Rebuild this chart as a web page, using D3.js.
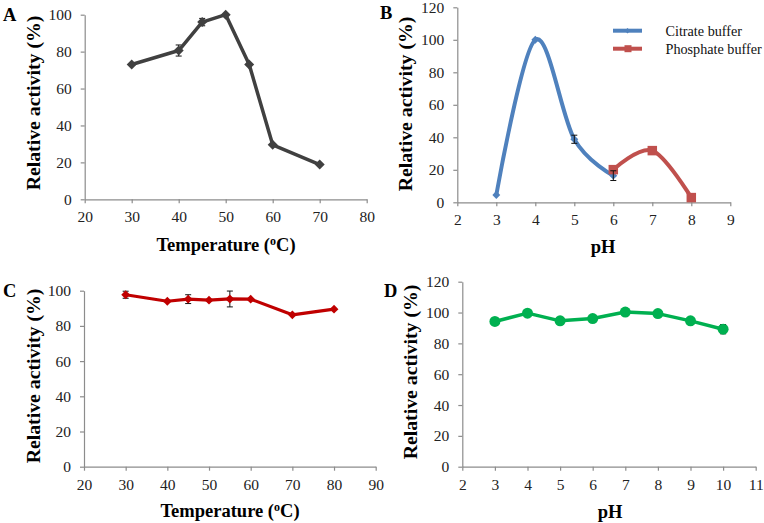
<!DOCTYPE html>
<html><head><meta charset="utf-8">
<script src="https://cdn.jsdelivr.net/npm/d3@7"></script>
<style>
body{margin:0;background:#fff;}
svg{display:block;}
svg text{font-family:"Liberation Serif","DejaVu Serif",serif;}
</style></head>
<body><svg id="c" width="764" height="523"></svg>
<script>
// Panel A: temperature optimum
const aTemp = [30, 40, 45, 50, 55, 60, 70];
const aAct  = [73, 80.6, 96, 100, 73, 29.5, 18.8];
const aErr  = [0, 3, 2, 0, 0, 0, 0];
// Panel B: pH optimum
const bCitratePH  = [3, 4, 5, 6];
const bCitrateAct = [4.5, 100, 38.8, 16.4];
const bCitrateErr = [0, 0, 2.5, 3];
const bPhosPH  = [6, 7, 8];
const bPhosAct = [20.1, 31.8, 2.9];
const bPhosErr = [0, 0, 0];
// Panel C: thermal stability
const cTemp = [30, 40, 45, 50, 55, 60, 70, 80];
const cAct  = [97.7, 94, 95.2, 94.6, 95.3, 95.2, 86.3, 89.5];
const cErr  = [2, 0, 2.5, 0, 4.5, 0, 0, 0];
// Panel D: pH stability
const dPH  = [3, 4, 5, 6, 7, 8, 9, 10];
const dAct = [94.2, 99.6, 94.6, 96.1, 100.3, 99.3, 94.6, 89.2];
const dErr = [0, 0, 0, 0, 0, 0, 0, 3];
// ticks
const tickA_x = [20, 30, 40, 50, 60, 70, 80];
const tickA_y = [0, 20, 40, 60, 80, 100];
const tickB_x = [2, 3, 4, 5, 6, 7, 8, 9];
const tickB_y = [0, 20, 40, 60, 80, 100, 120];
const tickC_x = [20, 30, 40, 50, 60, 70, 80, 90];
const tickC_y = [0, 20, 40, 60, 80, 100];
const tickD_x = [2, 3, 4, 5, 6, 7, 8, 9, 10, 11];
const tickD_y = [0, 20, 40, 60, 80, 100, 120];
const legendLabels = ["Citrate buffer", "Phosphate buffer"];

const FONT = '"Liberation Serif","DejaVu Serif",serif';
const svg = d3.select("#c");

function panel(o){
  const x = d3.scaleLinear().domain(o.xd).range([o.x0, o.x1]);
  const y = d3.scaleLinear().domain(o.yd).range([o.y0, o.y1]);
  const gx = svg.append("g").attr("transform", `translate(0,${o.y0})`)
    .call(d3.axisBottom(x).tickValues(o.xt).tickFormat(d3.format("d")).tickSize(4).tickSizeOuter(0).tickPadding(8));
  const gy = svg.append("g").attr("transform", `translate(${o.x0},0)`)
    .call(d3.axisLeft(y).tickValues(o.yt).tickFormat(d3.format("d")).tickSize(4).tickSizeOuter(0).tickPadding(9));
  [gx, gy].forEach(g => {
    g.attr("font-family", FONT).attr("font-size", 15.5);
    g.select(".domain").attr("stroke", "#8c8c8c").attr("stroke-width", 1.2);
    g.selectAll(".tick line").attr("stroke", "#8c8c8c").attr("stroke-width", 1.2);
    g.selectAll(".tick text").attr("fill", "#222");
  });
  // y title
  svg.append("text").attr("transform", `translate(${o.ytx},${o.yty}) rotate(-90)`)
    .attr("text-anchor", "middle").attr("font-weight", "bold").attr("font-size", 19.8)
    .text("Relative activity (%)");
  // x title
  const t = svg.append("text").attr("x", o.xtx).attr("y", o.xty)
    .attr("text-anchor", "middle").attr("font-weight", "bold").attr("font-size", 18.5);
  if (o.temp) {
    t.append("tspan").text("Temperature (");
    t.append("tspan").text("o").attr("font-size", 12).attr("dy", -6);
    t.append("tspan").text("C)").attr("dy", 6);
  } else t.text("pH");
  // panel letter
  svg.append("text").attr("x", o.lx).attr("y", o.ly).attr("font-weight", "bold")
    .attr("font-size", 18.5).text(o.letter);
  return {x, y};
}

function errBars(s, xs, ys, es){
  xs.forEach((xv, i) => {
    if (!es[i]) return;
    const cx = s.x(xv), t = s.y(ys[i] + es[i]), b = s.y(ys[i] - es[i]);
    const g = svg.append("g").attr("stroke", "#111").attr("stroke-width", 1);
    g.append("line").attr("x1", cx).attr("x2", cx).attr("y1", t).attr("y2", b);
    g.append("line").attr("x1", cx - 3).attr("x2", cx + 3).attr("y1", t).attr("y2", t);
    g.append("line").attr("x1", cx - 3).attr("x2", cx + 3).attr("y1", b).attr("y2", b);
  });
}

function series(s, xs, ys, color, width, curve, sym, size){
  const pts = xs.map((v, i) => [s.x(v), s.y(ys[i])]);
  svg.append("path").attr("d", d3.line().curve(curve)(pts))
    .attr("fill", "none").attr("stroke", color).attr("stroke-width", width)
    .attr("stroke-linejoin", "round");
  pts.forEach(p => {
    svg.append("path").attr("d", d3.symbol().type(sym).size(size)())
      .attr("transform", `translate(${p[0]},${p[1]})`)
      .attr("fill", color);
  });
}
const diamond = {draw(ctx, size){ const r = Math.sqrt(size)/2*1.25; ctx.moveTo(0,-r); ctx.lineTo(r,0); ctx.lineTo(0,r); ctx.lineTo(-r,0); ctx.closePath(); }};

// A
const A = panel({xd:[20,80], yd:[0,100], x0:84.7, x1:366.7, y0:199.3, y1:14.7, xt:tickA_x, yt:tickA_y,
  ytx:40, yty:103, xtx:226, xty:251, temp:true, lx:3, ly:20.5, letter:"A"});
errBars(A, aTemp, aAct, aErr);
series(A, aTemp, aAct, "#404040", 3.5, d3.curveLinear, diamond, 64);

// B
const B = panel({xd:[2,9], yd:[0,120], x0:457.3, x1:730.3, y0:202.3, y1:7.3, xt:tickB_x, yt:tickB_y,
  ytx:412, yty:104, xtx:603, xty:253, temp:false, lx:380, ly:19, letter:"B"});
series(B, bCitratePH, bCitrateAct, "#4F81BD", 4, d3.curveCardinal.tension(0), diamond, 40);
series(B, bPhosPH, bPhosAct, "#C0504D", 4, d3.curveCardinal.tension(0), d3.symbolSquare, 90);
errBars(B, bCitratePH, bCitrateAct, bCitrateErr);
// legend
const legColors = ["#4F81BD", "#C0504D"];
legendLabels.forEach((lab, i) => {
  const ly = 30.7 + i * 18;
  svg.append("line").attr("x1", 613).attr("x2", 642).attr("y1", ly).attr("y2", ly)
    .attr("stroke", legColors[i]).attr("stroke-width", 4);
  if (i === 1) svg.append("rect").attr("x", 624.5).attr("y", ly - 3.5).attr("width", 7).attr("height", 7).attr("fill", legColors[i]);
  else svg.append("path").attr("d", d3.symbol().type(diamond).size(20)()).attr("transform", `translate(627.5,${ly})`).attr("fill", legColors[i]);
  svg.append("text").attr("x", 665.5).attr("y", ly + 5).attr("font-size", 14.2).attr("fill", "#111").text(lab);
});

// C
const C = panel({xd:[20,90], yd:[0,100], x0:84, x1:375.7, y0:466.7, y1:290.7, xt:tickC_x, yt:tickC_y,
  ytx:40, yty:376, xtx:230, xty:517, temp:true, lx:3, ly:297, letter:"C"});
errBars(C, cTemp, cAct, cErr);
series(C, cTemp, cAct, "#C00000", 3.2, d3.curveLinear, diamond, 50);

// D
const D = panel({xd:[2,11], yd:[0,120], x0:462.3, x1:755.7, y0:466.7, y1:281.7, xt:tickD_x, yt:tickD_y,
  ytx:417, yty:372, xtx:610, xty:518, temp:false, lx:384, ly:297, letter:"D"});
errBars(D, dPH, dAct, dErr);
series(D, dPH, dAct, "#00B050", 3.5, d3.curveLinear, d3.symbolCircle, 95);
</script></body></html>
